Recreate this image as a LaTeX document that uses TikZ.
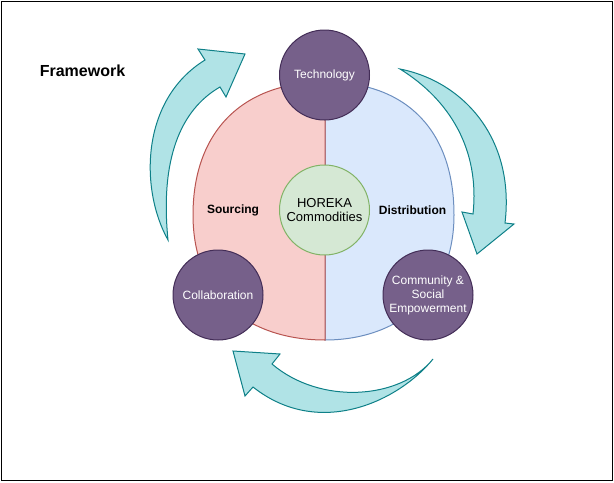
\documentclass[tikz,border=0pt]{standalone}
\usepackage{fontspec}
\setmainfont{Liberation Sans}
\usepackage{tikz}

\definecolor{pinkfill}{HTML}{F8CECC}
\definecolor{pinkline}{HTML}{B85450}
\definecolor{bluefill}{HTML}{DAE8FC}
\definecolor{blueline}{HTML}{6C8EBF}
\definecolor{greenfill}{HTML}{D5E8D4}
\definecolor{greenline}{HTML}{82B366}
\definecolor{purplefill}{HTML}{76608A}
\definecolor{purpleline}{HTML}{432D57}
\definecolor{tealfill}{HTML}{B0E3E6}
\definecolor{tealline}{HTML}{0E8088}

\begin{document}
\begin{tikzpicture}[x=0.75pt, y=-0.75pt, line width=0.75pt,
  pillar/.style={circle, draw=purpleline, fill=purplefill, text=white, minimum size=67.5pt,
    inner sep=0pt, align=center, font=\fontsize{9}{10.5}\selectfont},
  core/.style={circle, draw=greenline, fill=greenfill, minimum size=67.5pt,
    inner sep=0pt, align=center, font=\fontsize{9.75}{10.5}\selectfont},
  sidelabel/.style={font=\bfseries\fontsize{9}{10.5}\selectfont},
  cyclearrow/.style={draw=tealline, fill=tealfill, line join=miter}]
\useasboundingbox (0,0) rectangle (614,482);
\draw (1.5,1.5) rectangle (612.5,480.5);

\node[font=\bfseries\fontsize{12}{14}\selectfont] (title) at (82.5,71) {Framework};

% the two halves
\draw[draw=blueline, fill=bluefill] (325,82) .. controls (408,82) and (454,132) .. (454,215)
  .. controls (454,295) and (398,340) .. (325,340) -- cycle;
\draw[draw=pinkline, fill=pinkfill] (325,82) .. controls (242,82) and (193,132) .. (193,215)
  .. controls (193,298) and (250,340) .. (325,340) -- cycle;

\node[sidelabel] (sourcing) at (233,210) {Sourcing};
\node[sidelabel] (distribution) at (412.5,210) {Distribution};

\node[core] (horeka) at (324.5,210) {HOREKA\\Commodities};
\node[pillar] (tech) at (324.5,75) {Technology};
\node[pillar] (collab) at (218,295) {Collaboration};
\node[pillar] (community) at (428,295) {Community \&\\Social\\Empowerment};

% curved arrows
\draw[cyclearrow] (168,240) .. controls (140,190) and (140,100) .. (205,60) -- (198,49) -- (245,54)
  -- (226,97) -- (220,87) .. controls (180,110) and (160,160) .. (168,240) -- cycle;
\draw[cyclearrow] (400,69) .. controls (465,82) and (515,140) .. (505,223) -- (514,224) -- (477,254)
  -- (462,212) -- (473,214) .. controls (480,150) and (450,100) .. (400,69) -- cycle;
\draw[cyclearrow] (433,359) .. controls (400,400) and (320,440) .. (253,387) -- (245,396) -- (233,351)
  -- (280,354) -- (272,364) .. controls (320,405) and (400,400) .. (433,359) -- cycle;
\end{tikzpicture}
\end{document}
